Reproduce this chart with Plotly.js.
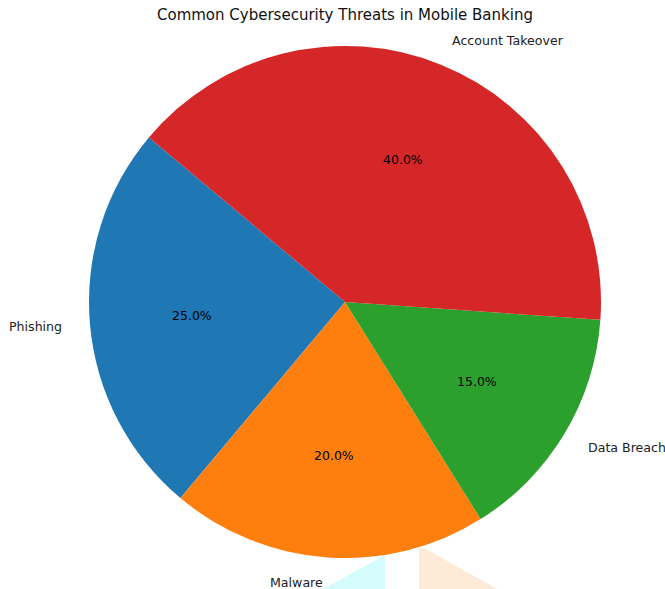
<!DOCTYPE html>
<html>
<head>
<meta charset="utf-8">
<script src="https://cdn.plot.ly/plotly-3.0.1.min.js"></script>
<style>html,body{margin:0;padding:0;background:#fff;}#chart{width:665px;height:589px;}</style>
</head>
<body>
<div id="chart"></div>
<script>
const labels = ["Phishing", "Malware", "Data Breach", "Account Takeover"];
const values = [25, 20, 15, 40];
const colors = ["#1f77b4", "#ff7f0e", "#2ca02c", "#d62728"];
const chartTitle = "Common Cybersecurity Threats in Mobile Banking";

const W = 665, H = 589;
const cx = 345, cy = 302, R = 256;
const startAngle = 140; // degrees, counterclockwise (matplotlib style)

const px = x => x / W;
const py = y => 1 - y / H;

const total = values.reduce((a, b) => a + b, 0);
const annotations = [];
let acc = startAngle;
values.forEach((v, i) => {
  const span = v / total * 360;
  const mid = (acc + span / 2) * Math.PI / 180;
  acc += span;
  const c = Math.cos(mid), s = Math.sin(mid);
  annotations.push({
    x: px(cx + 0.6 * R * c), y: py(cy - 0.6 * R * s),
    xref: "paper", yref: "paper", showarrow: false,
    text: (v / total * 100).toFixed(1) + "%",
    xanchor: "center", yanchor: "middle",
    font: {family: "DejaVu Sans", size: 12.5, color: "#000"}
  });
  annotations.push({
    x: px(cx + 1.1 * R * c), y: py(cy - 1.1 * R * s),
    xref: "paper", yref: "paper", showarrow: false,
    text: labels[i],
    xanchor: c >= 0 ? "left" : "right", yanchor: "middle",
    font: {family: "DejaVu Sans", size: 12.6, color: "#222"}
  });
});
annotations.push({
  x: px(cx), y: py(15), xref: "paper", yref: "paper", showarrow: false,
  text: chartTitle, xanchor: "center", yanchor: "middle",
  font: {family: "DejaVu Sans", size: 15, color: "#111"}
});

function poly(pts) {
  return "M " + pts.map(p => px(p[0]) + "," + py(p[1])).join(" L ") + " Z";
}

// Plotly (counterclockwise): first slice spans clockwise from `rotation`
const rotation = 90 - startAngle - values[0] / total * 360;

const trace = {
  type: "pie",
  labels: labels,
  values: values,
  sort: false,
  direction: "counterclockwise",
  rotation: rotation,
  marker: {colors: colors, line: {width: 0}},
  textinfo: "none",
  hoverinfo: "label+percent",
  showlegend: false,
  domain: {x: [px(cx - R), px(cx + R)], y: [py(cy + R), py(cy - R)]}
};

const layout = {
  width: W, height: H,
  margin: {l: 0, r: 0, t: 0, b: 0},
  paper_bgcolor: "#fff",
  showlegend: false,
  annotations: annotations,
  shapes: [
    {type: "path", xref: "paper", yref: "paper", path: poly([[323,589],[385,555],[385,589]]), fillcolor: "#d4fcfc", line: {width: 0}, layer: "below"},
    {type: "path", xref: "paper", yref: "paper", path: poly([[419,548],[424,548],[497,589],[419,589]]), fillcolor: "#fdebd8", line: {width: 0}, layer: "below"}
  ]
};

Plotly.newPlot("chart", [trace], layout, {displayModeBar: false, staticPlot: true});
</script>
</body>
</html>
